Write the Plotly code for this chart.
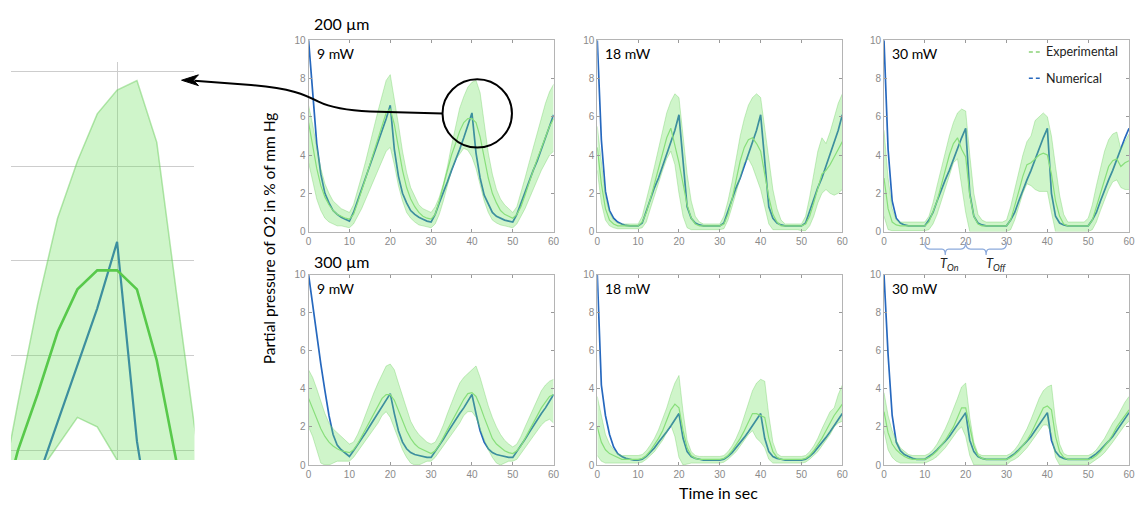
import plotly.graph_objects as go

# ---------------- data ----------------
time = list(range(61))

# 200 um, 9 mW
num_a = [10, 7.2, 4.6, 3.0, 2.0, 1.5, 1.1, 0.9, 0.75, 0.65,
         0.55, 1.0, 1.6, 2.2, 2.8, 3.4, 4.0, 4.6, 5.2, 5.9,
         6.6, 4.3, 2.9, 2.0, 1.5, 1.1, 0.9, 0.75, 0.65, 0.55,
         0.5, 0.9, 1.5, 2.0, 2.6, 3.2, 3.7, 4.3, 4.9, 5.5,
         6.2, 4.1, 2.8, 1.9, 1.4, 1.0, 0.8, 0.7, 0.6, 0.55,
         0.5, 0.9, 1.5, 2.0, 2.6, 3.2, 3.7, 4.3, 4.9, 5.5,
         6.1]
mean_a = [5.7, 4.5, 3.3, 2.4, 1.8, 1.4, 1.1, 0.9, 0.8, 0.7,
          0.65, 0.9, 1.5, 2.1, 2.8, 3.5, 4.2, 4.9, 5.6, 6.2,
          6.4, 5.6, 4.4, 3.2, 2.3, 1.7, 1.3, 1.0, 0.8, 0.7,
          0.65, 0.9, 1.6, 2.4, 3.2, 4.0, 4.6, 5.25, 5.7, 5.9,
          5.9, 5.7, 4.95, 3.8, 2.8, 2.0, 1.5, 1.1, 0.9, 0.8,
          0.7, 0.9, 1.3, 1.9, 2.6, 3.2, 3.8, 4.4, 5.0, 5.5,
          5.9]
up_a = [6.6, 5.6, 4.4, 3.3, 2.5, 2.0, 1.6, 1.4, 1.2, 1.1,
        1.0, 1.4, 2.1, 2.9, 3.7, 4.6, 5.4, 6.3, 7.1, 7.9,
        8.2, 7.0, 5.6, 4.2, 3.1, 2.3, 1.8, 1.4, 1.2, 1.1,
        1.0, 1.3, 1.8, 2.5, 3.4, 4.5, 5.55, 6.45, 7.05, 7.55,
        7.8, 7.9, 7.25, 5.65, 4.1, 3.0, 2.2, 1.7, 1.4, 1.2,
        1.0, 1.3, 2.0, 2.8, 3.6, 4.4, 5.2, 6.0, 6.7, 7.3,
        7.7]
lo_a = [3.6, 2.6, 1.7, 1.1, 0.7, 0.5, 0.4, 0.3, 0.3, 0.25,
        0.2, 0.4, 0.8, 1.2, 1.7, 2.2, 2.7, 3.2, 3.7, 4.2,
        4.4, 3.5, 2.4, 1.6, 1.0, 0.7, 0.5, 0.35, 0.3, 0.25,
        0.2, 0.4, 0.9, 1.6, 2.4, 3.2, 3.75, 4.05, 4.35, 4.25,
        3.9, 3.3, 2.4, 1.6, 1.0, 0.6, 0.45, 0.35, 0.3, 0.25,
        0.2, 0.4, 0.8, 1.2, 1.7, 2.2, 2.7, 3.2, 3.6, 4.0,
        4.2]

# 200 um, 18 mW
num_b = [10, 4.8, 2.1, 1.1, 0.7, 0.5, 0.4, 0.32, 0.3, 0.3,
         0.3, 0.45, 1.1, 1.7, 2.3, 2.8, 3.4, 4.0, 4.6, 5.3,
         6.1, 3.6, 1.3, 0.7, 0.45, 0.35, 0.3, 0.3, 0.3, 0.3,
         0.3, 0.45, 1.1, 1.7, 2.3, 2.8, 3.4, 4.0, 4.6, 5.3,
         6.1, 3.6, 1.3, 0.7, 0.45, 0.35, 0.3, 0.3, 0.3, 0.3,
         0.3, 0.45, 1.1, 1.7, 2.3, 2.8, 3.4, 4.0, 4.6, 5.3,
         6.1]
mean_b = [4.4, 2.5, 1.2, 0.6, 0.4, 0.3, 0.3, 0.3, 0.3, 0.3,
          0.3, 0.5, 1.0, 1.7, 2.5, 3.3, 4.1, 4.9, 5.4, 4.5,
          3.6, 2.5, 1.4, 0.7, 0.4, 0.3, 0.3, 0.3, 0.3, 0.3,
          0.3, 0.4, 0.9, 1.7, 2.7, 3.7, 4.4, 4.8, 4.9, 4.6,
          4.2, 3.0, 1.8, 0.9, 0.5, 0.3, 0.3, 0.3, 0.3, 0.3,
          0.3, 0.4, 0.8, 1.5, 2.3, 3.0, 3.2, 3.5, 3.9, 4.3,
          4.7]
up_b = [5.5, 3.5, 1.8, 1.0, 0.6, 0.45, 0.4, 0.4, 0.4, 0.4,
        0.4, 0.8, 1.6, 2.5, 3.4, 4.3, 5.2, 6.2, 6.8, 7.2,
        7.0, 5.0, 3.0, 1.6, 0.8, 0.5, 0.4, 0.4, 0.4, 0.4,
        0.4, 0.8, 1.6, 2.6, 3.8, 5.0, 5.9, 6.6, 7.0, 7.2,
        7.0, 5.3, 3.6, 2.2, 1.2, 0.6, 0.4, 0.4, 0.4, 0.4,
        0.4, 0.8, 1.8, 3.0, 4.2, 4.9, 4.6, 5.2, 6.0, 6.7,
        7.2]
lo_b = [3.2, 1.5, 0.6, 0.3, 0.2, 0.15, 0.15, 0.15, 0.15, 0.15,
        0.15, 0.2, 0.5, 1.2, 1.9, 2.6, 3.2, 3.8, 4.2, 3.5,
        2.0, 0.8, 0.2, 0.1, 0.1, 0.1, 0.1, 0.1, 0.1, 0.1,
        0.1, 0.15, 0.6, 1.3, 2.0, 2.8, 3.6, 3.8, 3.4, 2.8,
        2.2, 1.3, 0.4, 0.1, 0.1, 0.1, 0.1, 0.1, 0.1, 0.1,
        0.05, 0.05, 0.3, 0.8, 1.5, 2.0, 2.2, 2.0, 1.9, 2.0,
        2.2]

# 200 um, 30 mW
num_c = [10, 4.3, 1.6, 0.7, 0.45, 0.35, 0.3, 0.3, 0.3, 0.3,
         0.3, 0.6, 1.0, 1.6, 2.2, 2.7, 3.2, 3.8, 4.3, 4.9,
         5.4, 2.0, 0.8, 0.45, 0.35, 0.3, 0.3, 0.3, 0.3, 0.3,
         0.3, 0.6, 1.0, 1.6, 2.2, 2.7, 3.2, 3.8, 4.3, 4.9,
         5.4, 2.0, 0.8, 0.45, 0.35, 0.3, 0.3, 0.3, 0.3, 0.3,
         0.3, 0.6, 1.0, 1.6, 2.2, 2.7, 3.2, 3.8, 4.3, 4.9,
         5.4]
mean_c = [2.8, 1.2, 0.5, 0.35, 0.3, 0.3, 0.3, 0.3, 0.3, 0.3,
          0.3, 0.5, 1.0, 1.6, 2.4, 3.2, 4.0, 4.6, 4.9, 4.3,
          3.9, 1.9, 0.8, 0.4, 0.3, 0.3, 0.3, 0.3, 0.3, 0.3,
          0.3, 0.6, 1.3, 2.1, 2.9, 3.5, 3.6, 3.8, 4.0, 4.1,
          4.0, 3.0, 1.6, 0.8, 0.4, 0.3, 0.3, 0.3, 0.3, 0.3,
          0.3, 0.6, 1.3, 2.1, 2.8, 3.4, 3.7, 3.8, 3.4, 3.6,
          3.7]
up_c = [5.3, 2.8, 1.2, 0.6, 0.5, 0.5, 0.5, 0.5, 0.5, 0.5,
        0.5, 0.8, 1.5, 2.4, 3.3, 4.2, 5.0, 5.7, 6.2, 6.4,
        6.3, 4.0, 2.0, 0.9, 0.6, 0.5, 0.5, 0.5, 0.5, 0.5,
        0.6, 1.3, 2.2, 3.1, 4.0, 4.7, 5.0, 5.8, 6.0, 6.2,
        6.0, 5.0, 3.4, 1.9, 0.9, 0.5, 0.5, 0.5, 0.5, 0.5,
        0.7, 1.4, 2.4, 3.3, 4.2, 4.8, 5.1, 5.2, 4.3, 4.7,
        5.1]
lo_c = [0.8, 0.1, 0.05, 0.05, 0.05, 0.05, 0.05, 0.05, 0.05, 0.05,
        0.05, 0.1, 0.4, 0.9, 1.6, 2.3, 3.0, 3.6, 3.8, 2.5,
        1.0, 0, 0, 0, 0, 0, 0, 0, 0, 0,
        0, 0.1, 0.6, 1.3, 2.0, 2.5, 2.4, 2.2, 2.1, 2.1,
        2.1, 1.0, 0, 0, 0, 0, 0, 0, 0, 0,
        0, 0.1, 0.5, 1.1, 1.7, 2.2, 2.6, 2.7, 2.3, 2.2,
        2.2]

# 300 um, 9 mW
num_d = [10, 8.4, 6.8, 5.3, 3.9, 2.6, 1.6, 1.05, 0.8, 0.6,
         0.45, 0.75, 1.05, 1.4, 1.7, 2.05, 2.4, 2.7, 3.05, 3.4,
         3.75, 2.7, 1.8, 1.2, 0.85, 0.65, 0.55, 0.5, 0.45, 0.4,
         0.4, 0.7, 1.05, 1.35, 1.7, 2.05, 2.35, 2.7, 3.0, 3.35,
         3.7, 2.7, 1.8, 1.2, 0.85, 0.65, 0.55, 0.5, 0.45, 0.4,
         0.4, 0.7, 1.05, 1.35, 1.7, 2.05, 2.35, 2.7, 3.0, 3.35,
         3.7]
mean_d = [3.5, 3.0, 2.4, 1.9, 1.5, 1.2, 1.0, 0.85, 0.75, 0.7,
          0.65, 0.8, 1.1, 1.5, 1.9, 2.3, 2.7, 3.1, 3.5, 3.7,
          3.7, 3.4, 2.9, 2.3, 1.8, 1.4, 1.1, 0.9, 0.8, 0.7,
          0.6, 0.75, 1.05, 1.45, 1.85, 2.25, 2.65, 3.05, 3.45, 3.75,
          3.8, 3.6, 3.1, 2.5, 1.9, 1.4, 1.1, 0.9, 0.75, 0.65,
          0.6, 0.75, 1.0, 1.4, 1.8, 2.2, 2.6, 3.0, 3.3, 3.6,
          3.7]
up_d = [5.0, 4.6, 4.0, 3.3, 2.7, 2.2, 1.9, 1.7, 1.5, 1.3,
        1.1, 1.2, 1.6, 2.1, 2.7, 3.2, 3.8, 4.3, 4.8, 5.2,
        5.3, 5.0, 4.3, 3.6, 2.9, 2.3, 1.9, 1.6, 1.4, 1.2,
        1.1, 1.2, 1.6, 2.1, 2.7, 3.3, 3.8, 4.3, 4.6, 4.8,
        5.0, 5.2, 4.6, 3.8, 3.1, 2.5, 2.0, 1.6, 1.3, 1.1,
        0.95, 1.1, 1.5, 2.0, 2.5, 3.0, 3.5, 3.9, 4.2, 4.4,
        4.5]
lo_d = [2.0, 1.5, 0.8, 0.1, 0, 0, 0.1, 0.2, 0.2, 0.2,
        0.2, 0.4, 0.7, 1.0, 1.3, 1.6, 1.9, 2.2, 2.6, 2.8,
        2.5, 1.9, 1.3, 0.8, 0.4, 0.1, 0, 0, 0.1, 0.2,
        0.2, 0.4, 0.7, 1.0, 1.3, 1.6, 1.9, 2.2, 2.6, 2.8,
        2.8, 2.5, 1.9, 1.3, 0.8, 0.4, 0.1, 0, 0.1, 0.2,
        0.2, 0.3, 0.6, 0.9, 1.2, 1.5, 1.8, 2.1, 2.3, 2.4,
        2.2]

# 300 um, 18 mW
num_e = [10, 4.2, 2.6, 1.6, 0.95, 0.6, 0.45, 0.35, 0.3, 0.25,
         0.25, 0.3, 0.45, 0.65, 0.9, 1.2, 1.45, 1.75, 2.05, 2.35,
         2.7, 1.4, 0.7, 0.45, 0.35, 0.3, 0.25, 0.25, 0.25, 0.25,
         0.25, 0.3, 0.45, 0.65, 0.9, 1.2, 1.45, 1.75, 2.05, 2.35,
         2.7, 1.4, 0.7, 0.45, 0.35, 0.3, 0.25, 0.25, 0.25, 0.25,
         0.25, 0.3, 0.45, 0.65, 0.9, 1.2, 1.45, 1.75, 2.05, 2.35,
         2.7]
mean_e = [2.0, 1.2, 0.8, 0.6, 0.5, 0.4, 0.3, 0.3, 0.3, 0.3,
          0.3, 0.35, 0.5, 0.75, 1.05, 1.4, 1.8, 2.3, 2.9, 3.2,
          3.0, 1.8, 0.9, 0.5, 0.35, 0.3, 0.3, 0.3, 0.3, 0.3,
          0.3, 0.35, 0.5, 0.75, 1.05, 1.4, 1.8, 2.3, 2.7, 2.7,
          2.6, 2.5, 1.4, 0.7, 0.4, 0.3, 0.3, 0.3, 0.3, 0.3,
          0.3, 0.35, 0.5, 0.75, 1.05, 1.4, 1.8, 2.2, 2.6, 2.9,
          3.2]
up_e = [3.6, 2.5, 1.6, 1.1, 0.8, 0.6, 0.5, 0.5, 0.5, 0.5,
        0.5, 0.55, 0.75, 1.05, 1.4, 1.85, 2.4, 3.0, 3.7, 4.3,
        4.7, 2.8, 1.3, 0.7, 0.5, 0.45, 0.45, 0.45, 0.45, 0.45,
        0.45, 0.5, 0.7, 1.0, 1.4, 1.9, 2.6, 3.3, 3.9, 4.3,
        4.5, 4.4, 2.6, 1.2, 0.6, 0.45, 0.45, 0.45, 0.45, 0.45,
        0.45, 0.5, 0.7, 1.0, 1.4, 1.9, 2.4, 2.8, 3.0, 3.7,
        4.2]
lo_e = [0.5, 0.2, 0.1, 0.1, 0.1, 0.1, 0.1, 0.1, 0.1, 0.1,
        0.1, 0.15, 0.3, 0.5, 0.7, 1.0, 1.3, 1.7, 2.1, 1.5,
        0.4, 0, 0.05, 0.1, 0.1, 0.1, 0.1, 0.1, 0.1, 0.1,
        0.1, 0.15, 0.3, 0.5, 0.7, 1.0, 1.3, 1.6, 1.8, 1.4,
        1.2, 0.9, 0.3, 0.1, 0.1, 0.1, 0.1, 0.1, 0.1, 0.1,
        0.1, 0.15, 0.3, 0.5, 0.7, 1.0, 1.3, 1.6, 2.0, 2.2,
        2.3]

# 300 um, 30 mW
num_f = [10, 5.8, 2.6, 1.2, 0.75, 0.55, 0.45, 0.35, 0.3, 0.3,
         0.3, 0.45, 0.6, 0.8, 1.0, 1.25, 1.5, 1.8, 2.1, 2.4,
         2.75, 1.3, 0.7, 0.45, 0.35, 0.3, 0.3, 0.3, 0.3, 0.3,
         0.3, 0.45, 0.6, 0.8, 1.0, 1.25, 1.5, 1.8, 2.1, 2.4,
         2.75, 1.3, 0.7, 0.45, 0.35, 0.3, 0.3, 0.3, 0.3, 0.3,
         0.3, 0.45, 0.6, 0.8, 1.0, 1.25, 1.5, 1.8, 2.1, 2.4,
         2.75]
mean_f = [2.8, 1.7, 1.1, 0.8, 0.6, 0.45, 0.35, 0.3, 0.3, 0.3,
          0.3, 0.4, 0.55, 0.75, 1.0, 1.3, 1.65, 2.0, 2.5, 3.0,
          3.0, 2.0, 1.0, 0.5, 0.35, 0.3, 0.3, 0.3, 0.3, 0.3,
          0.3, 0.4, 0.55, 0.75, 1.0, 1.3, 1.65, 2.1, 2.6, 3.0,
          3.1, 2.9, 1.5, 0.7, 0.4, 0.3, 0.3, 0.3, 0.3, 0.3,
          0.3, 0.35, 0.5, 0.7, 0.95, 1.25, 1.6, 2.0, 2.3, 2.6,
          2.9]
up_f = [3.8, 2.6, 1.8, 1.3, 0.9, 0.7, 0.55, 0.5, 0.5, 0.5,
        0.5, 0.6, 0.8, 1.1, 1.5, 1.9, 2.4, 2.9, 3.5, 4.1,
        4.3, 2.5, 1.2, 0.6, 0.5, 0.5, 0.5, 0.5, 0.5, 0.5,
        0.5, 0.6, 0.8, 1.1, 1.5, 1.9, 2.4, 3.0, 3.5, 3.9,
        4.1, 4.2, 2.3, 1.1, 0.6, 0.5, 0.5, 0.5, 0.5, 0.5,
        0.5, 0.6, 0.8, 1.1, 1.4, 1.8, 2.2, 2.5, 2.9, 3.3,
        3.6]
lo_f = [1.8, 0.8, 0.4, 0.2, 0.1, 0.1, 0.1, 0.1, 0.1, 0.1,
        0.1, 0.2, 0.3, 0.45, 0.65, 0.9, 1.2, 1.5, 1.8, 2.0,
        1.5, 0.5, 0, 0, 0, 0, 0, 0, 0, 0,
        0, 0.2, 0.3, 0.45, 0.65, 0.9, 1.2, 1.5, 1.8, 2.1,
        2.1, 1.6, 0.4, 0, 0, 0, 0, 0, 0, 0,
        0, 0.15, 0.3, 0.45, 0.65, 0.9, 1.2, 1.5, 1.8, 2.1,
        2.3]

panel_labels = ["9 mW", "18 mW", "30 mW", "9 mW", "18 mW", "30 mW"]
row_labels = ["200 µm", "300 µm"]
x_ticks = [0, 10, 20, 30, 40, 50, 60]
y_ticks = [0, 2, 4, 6, 8, 10]
legend_names = ["Experimental", "Numerical"]

# ---------------- styling ----------------
W, H = 1142, 513
C_NUM = "rgb(38,104,190)"
C_MEAN = "rgb(150,222,138)"
C_MEAN_INSET = "rgb(78,190,66)"
C_FILL = "rgba(110,225,95,0.33)"
C_EDGE = "rgba(110,205,95,0.45)"
FONT = "Lato, 'Open Sans', sans-serif"


def fx(x):
    return x / W


def fy(y):
    return 1 - y / H


def P(x, y):
    return f"{fx(x):.5f},{fy(y):.5f}"


boxes = [(308, 555, 35, 231), (599, 846, 35, 231), (888, 1135, 35, 231),
         (308, 555, 275, 470), (599, 846, 275, 470), (888, 1135, 275, 470)]
series = [(num_a, mean_a, up_a, lo_a), (num_b, mean_b, up_b, lo_b),
          (num_c, mean_c, up_c, lo_c), (num_d, mean_d, up_d, lo_d),
          (num_e, mean_e, up_e, lo_e), (num_f, mean_f, up_f, lo_f)]

fig = go.Figure()
layout = dict(width=W, height=H, margin=dict(l=0, r=0, t=0, b=0),
              paper_bgcolor="white", plot_bgcolor="white", showlegend=False,
              font=dict(family=FONT))

for i, ((num, mean, up, lo), (x0, x1, y0, y1)) in enumerate(zip(series, boxes)):
    k = i + 1
    xa, ya = f"x{k}", f"y{k}"
    fig.add_trace(go.Scatter(x=time, y=num, mode="lines", xaxis=xa, yaxis=ya,
                             line=dict(color=C_NUM, width=1.7)))
    fig.add_trace(go.Scatter(x=time, y=mean, mode="lines", xaxis=xa, yaxis=ya,
                             line=dict(color=C_MEAN, width=1.2)))
    fig.add_trace(go.Scatter(x=time, y=lo, mode="lines", xaxis=xa, yaxis=ya,
                             line=dict(color=C_EDGE, width=0.8)))
    fig.add_trace(go.Scatter(x=time, y=up, mode="lines", xaxis=xa, yaxis=ya,
                             fill="tonexty", fillcolor=C_FILL,
                             line=dict(color=C_EDGE, width=0.8)))
    axcommon = dict(ticks="inside", ticklen=3, tickcolor="#9a9a9a", showline=True,
                    linecolor="#b4b4b4", linewidth=1, mirror="ticks", showgrid=False,
                    zeroline=False, fixedrange=True,
                    tickfont=dict(size=10, color="#8a8a8a", family="Liberation Sans, Arial"))
    layout[f"xaxis{k}"] = dict(domain=[fx(x0), fx(x1)], range=[0, 60], tickvals=x_ticks,
                               anchor=ya, **axcommon)
    layout[f"yaxis{k}"] = dict(domain=[fy(y1), fy(y0)], range=[0, 10], tickvals=y_ticks,
                               anchor=xa, **axcommon)

# inset: zoom of the 200 µm / 9 mW second peak
fig.add_trace(go.Scatter(x=time, y=num_a, mode="lines", xaxis="x7", yaxis="y7",
                         line=dict(color=C_NUM, width=2.2)))
fig.add_trace(go.Scatter(x=time, y=mean_a, mode="lines", xaxis="x7", yaxis="y7",
                         line=dict(color=C_MEAN_INSET, width=2.6)))
fig.add_trace(go.Scatter(x=time, y=lo_a, mode="lines", xaxis="x7", yaxis="y7",
                         line=dict(color="rgba(110,205,95,0.5)", width=1.5)))
fig.add_trace(go.Scatter(x=time, y=up_a, mode="lines", xaxis="x7", yaxis="y7",
                         fill="tonexty", fillcolor=C_FILL,
                         line=dict(color="rgba(110,205,95,0.5)", width=1.5)))
layout["xaxis7"] = dict(domain=[fx(8), fx(193)], range=[34.65, 43.9], tickvals=[40],
                        showticklabels=False, ticks="", showgrid=True, gridcolor="#cdcdcd",
                        gridwidth=1, zeroline=False, showline=False, anchor="y7", fixedrange=True)
layout["yaxis7"] = dict(domain=[fy(465), fy(57)], range=[3.9, 8.1], tickvals=[4, 5, 6, 7, 8],
                        showticklabels=False, ticks="", showgrid=True, gridcolor="#cdcdcd",
                        gridwidth=1, zeroline=False, showline=False, anchor="x7", fixedrange=True)

ann = []
for lab, y in zip(row_labels, [18, 262]):
    ann.append(dict(text=lab, x=fx(311), y=fy(y), xref="paper", yref="paper",
                    xanchor="left", yanchor="middle", showarrow=False,
                    font=dict(size=16, color="black", family=FONT)))
for lab, (x0, x1, y0, y1) in zip(panel_labels, boxes):
    ann.append(dict(text=lab, x=fx(x0 + 6), y=fy(y0 + 14), xref="paper", yref="paper",
                    xanchor="left", yanchor="middle", showarrow=False,
                    font=dict(size=14, color="black", family=FONT)))
ann.append(dict(text="Partial pressure of O2 in % of mm Hg", x=fx(269), y=fy(238),
                xref="paper", yref="paper", textangle=-90, showarrow=False,
                xanchor="center", yanchor="middle",
                font=dict(size=15.5, color="black", family=FONT)))
ann.append(dict(text="Time in sec", x=fx(721), y=fy(498), xref="paper", yref="paper",
                showarrow=False, xanchor="center", yanchor="middle",
                font=dict(size=16, color="black", family=FONT)))
for name, y in zip(legend_names, [47, 74]):
    ann.append(dict(text=name, x=fx(1049), y=fy(y), xref="paper", yref="paper",
                    xanchor="left", yanchor="middle", showarrow=False,
                    font=dict(size=12.5, color="#222222", family=FONT)))
ann.append(dict(text="<i>T</i><sub><i>On</i></sub>", x=fx(942), y=fy(264), xref="paper",
                yref="paper", xanchor="left", yanchor="middle", showarrow=False,
                font=dict(size=13, color="#222222", family=FONT)))
ann.append(dict(text="<i>T</i><sub><i>Off</i></sub>", x=fx(989), y=fy(264), xref="paper",
                yref="paper", xanchor="left", yanchor="middle", showarrow=False,
                font=dict(size=13, color="#222222", family=FONT)))
layout["annotations"] = ann

shapes = []
shapes.append(dict(type="line", xref="paper", yref="paper", x0=fx(1034), x1=fx(1045),
                   y0=fy(47), y1=fy(47), line=dict(color="rgb(140,210,120)", width=1.5, dash="4px,3px")))
shapes.append(dict(type="line", xref="paper", yref="paper", x0=fx(1034), x1=fx(1045),
                   y0=fy(74), y1=fy(74), line=dict(color=C_NUM, width=1.5, dash="4px,3px")))
for a, b in [(10, 20), (20, 30)]:
    m = (a + b) / 2
    path = (f"M{a},{fy(242):.5f} Q{a},{fy(249):.5f} {a+1.2},{fy(249):.5f} "
            f"L{m-0.8},{fy(249):.5f} Q{m},{fy(249):.5f} {m},{fy(255):.5f} "
            f"Q{m},{fy(249):.5f} {m+0.8},{fy(249):.5f} L{b-1.2},{fy(249):.5f} "
            f"Q{b},{fy(249):.5f} {b},{fy(242):.5f}")
    shapes.append(dict(type="path", xref="x3", yref="paper", path=path,
                       line=dict(color="rgb(140,170,220)", width=1.2)))
shapes.append(dict(type="circle", xref="paper", yref="paper", x0=fx(443), x1=fx(513),
                   y0=fy(145), y1=fy(75), line=dict(color="black", width=2)))
conn = ("M" + P(443, 110) + " L" + P(370, 108) + " C" + P(345, 107) + " " + P(330, 104)
        + " " + P(318, 98) + " C" + P(305, 91) + " " + P(290, 84) + " " + P(250, 81)
        + " L" + P(193, 76.5))
shapes.append(dict(type="path", xref="paper", yref="paper", path=conn,
                   line=dict(color="black", width=2)))
head = "M" + P(180, 76) + " L" + P(197, 70.5) + " L" + P(192, 76) + " L" + P(197, 81.5) + " Z"
shapes.append(dict(type="path", xref="paper", yref="paper", path=head,
                   fillcolor="black", line=dict(color="black", width=1)))
layout["shapes"] = shapes

fig.update_layout(**layout)
fig.write_html("out.html", config={"displayModeBar": False},
               post_script="document.body.style.margin='0';document.body.style.overflow='hidden';")
